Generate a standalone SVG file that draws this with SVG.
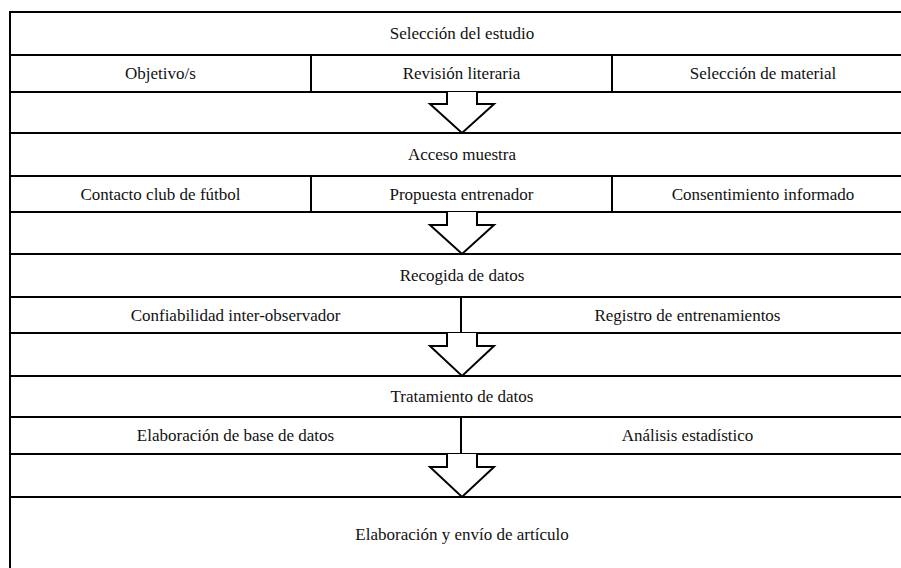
<svg xmlns="http://www.w3.org/2000/svg" width="901" height="568" viewBox="0 0 901 568" font-family="'Liberation Serif', 'Times New Roman', 'DejaVu Serif', serif">
<style>
.c{fill:#fff;stroke:#000;stroke-width:2}
text{font-family:'Liberation Serif','Times New Roman','DejaVu Serif',serif;font-size:17px;fill:#111;text-anchor:middle}
.a{fill:#fff;stroke:#000;stroke-width:2;stroke-linejoin:miter}
</style>
<rect width="901" height="568" fill="#fff"/>
<g id="n1"><rect class="c" x="10" y="12" width="904" height="43"/><text x="462" y="39">Selección del estudio</text></g>
<g id="n1a"><rect class="c" x="10" y="55" width="301" height="37"/><text x="160.5" y="79">Objetivo/s</text></g>
<g id="n1b"><rect class="c" x="311" y="55" width="301" height="37"/><text x="461.5" y="79">Revisión literaria</text></g>
<g id="n1c"><rect class="c" x="612" y="55" width="302" height="37"/><text x="763" y="79">Selección de material</text></g>
<g id="gap1"><rect class="c" x="10" y="92" width="904" height="41"/></g>
<g id="n2"><rect class="c" x="10" y="133" width="904" height="43"/><text x="462" y="160">Acceso muestra</text></g>
<g id="n2a"><rect class="c" x="10" y="176" width="301" height="36"/><text x="160.5" y="199.5">Contacto club de fútbol</text></g>
<g id="n2b"><rect class="c" x="311" y="176" width="301" height="36"/><text x="461.5" y="199.5">Propuesta entrenador</text></g>
<g id="n2c"><rect class="c" x="612" y="176" width="302" height="36"/><text x="763" y="199.5">Consentimiento informado</text></g>
<g id="gap2"><rect class="c" x="10" y="212" width="904" height="42"/></g>
<g id="n3"><rect class="c" x="10" y="254" width="904" height="43"/><text x="462" y="281">Recogida de datos</text></g>
<g id="n3a"><rect class="c" x="10" y="297" width="451" height="36"/><text x="235.5" y="320.5">Confiabilidad inter-observador</text></g>
<g id="n3b"><rect class="c" x="461" y="297" width="453" height="36"/><text x="687.5" y="320.5">Registro de entrenamientos</text></g>
<g id="gap3"><rect class="c" x="10" y="333" width="904" height="43"/></g>
<g id="n4"><rect class="c" x="10" y="376" width="904" height="41"/><text x="462" y="402">Tratamiento de datos</text></g>
<g id="n4a"><rect class="c" x="10" y="417" width="451" height="37"/><text x="235.5" y="441">Elaboración de base de datos</text></g>
<g id="n4b"><rect class="c" x="461" y="417" width="453" height="37"/><text x="687.5" y="441">Análisis estadístico</text></g>
<g id="gap4"><rect class="c" x="10" y="454" width="904" height="43"/></g>
<g id="n5"><rect class="c" x="10" y="497" width="904" height="77"/><text x="462" y="540">Elaboración y envío de artículo</text></g>
<g id="connectors">
<path class="a" d="M447,92 L447,104 L430,104 L462,133 L494,104 L477,104 L477,92"/>
<path class="a" d="M447,212 L447,225 L430,225 L462,254 L494,225 L477,225 L477,212"/>
<path class="a" d="M447,333 L447,346 L430,346 L462,376 L494,346 L477,346 L477,333"/>
<path class="a" d="M447,454 L447,467 L430,467 L462,497 L494,467 L477,467 L477,454"/>
</g>
</svg>
